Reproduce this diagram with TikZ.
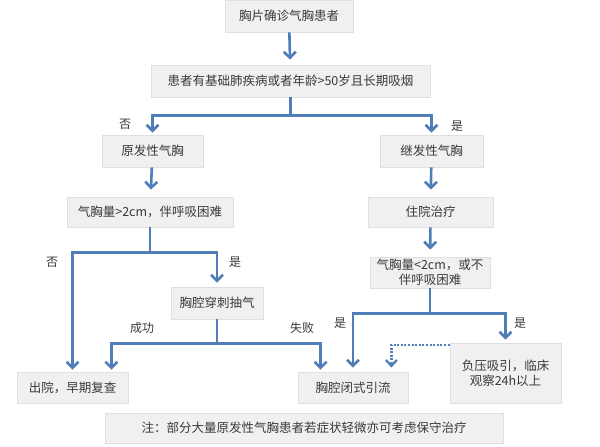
\documentclass[tikz,border=0pt]{standalone}
\usepackage{fontspec}
\setmainfont{Noto Sans CJK SC}
\usetikzlibrary{arrows.meta,calc}
\definecolor{lineblue}{HTML}{4F7DB8}
\definecolor{boxfill}{HTML}{F0F0F0}
\definecolor{boxedge}{HTML}{E0E0E0}
\definecolor{txt}{HTML}{3A3A3A}
\begin{document}
\begin{tikzpicture}[x=1pt,y=-1pt,
  box/.style={fill=boxfill,draw=boxedge,line width=0.8pt,inner sep=0pt,align=center,text=txt,font=\fontsize{12.5}{15}\selectfont},
  conn/.style={draw=lineblue,line width=2.6pt},
  arr/.style={conn,-{Straight Barb[length=6pt,width=12pt]}},
  dotarr/.style={draw=lineblue,line width=2.2pt,dash pattern=on 2pt off 1.6pt,-{Straight Barb[length=6pt,width=11pt]}},
  lbl/.style={text=txt,inner sep=0pt,font=\fontsize{12}{14}\selectfont}]
\useasboundingbox (0,0) rectangle (600,447);
\fill[white] (0,0) rectangle (600,447);
% boxes
\node[box,minimum width=128pt,minimum height=32pt] (b1) at (289,16) {胸片确诊气胸患者};
\node[box,minimum width=279pt,minimum height=32pt] (b2) at (290.5,81) {患者有基础肺疾病或者年龄>50岁且长期吸烟};
\node[box,minimum width=101pt,minimum height=32pt] (b3) at (152.5,151) {原发性气胸};
\node[box,minimum width=103pt,minimum height=32pt] (b4) at (431.5,151) {继发性气胸};
\node[box,minimum width=166pt,minimum height=30pt] (b5) at (150,212) {气胸量>2cm，伴呼吸困难};
\node[box,minimum width=125pt,minimum height=30pt] (b6) at (430.5,212) {住院治疗};
\node[box,minimum width=92pt,minimum height=32pt] (b7) at (217,303) {胸腔穿刺抽气};
\node[box,minimum width=120pt,minimum height=31pt] (b8) at (430,272.5) {气胸量<2cm，或不\\伴呼吸困难};
\node[box,minimum width=111pt,minimum height=31pt] (b9) at (72.5,387.5) {出院，早期复查};
\node[box,minimum width=110pt,minimum height=31pt] (b10) at (353,387.5) {胸腔闭式引流};
\node[box,minimum width=111pt,minimum height=60pt] (b11) at (505.5,373) {负压吸引，临床\\观察24h以上};
\node[box,minimum width=398pt,minimum height=30pt] (b12) at (304,428) {注：部分大量原发性气胸患者若症状轻微亦可考虑保守治疗};
% connectors
\draw[arr,shorten >=5pt] (b1) -- (b2);
\draw[conn] (b2.south) -- ++(0,18) coordinate (j1);
\draw[arr,shorten >=2pt] (j1) -| (b3.north);
\draw[arr,shorten >=2pt] (j1) -| (b4.north);
\draw[arr,shorten >=7pt] (b3) -- (b5);
\draw[arr,shorten >=7pt] (b4) -- (b6);
\draw[arr,shorten >=7pt] (b6) -- (b8);
\draw[conn] (b5.south) -- ++(0,25) coordinate (j2);
\draw[arr,shorten >=2pt] (j2) -| (b9.north);
\draw[arr,shorten >=4pt] (j2) -| (b7.north);
\draw[conn] (b7.south) -- ++(0,24) coordinate (j3);
\draw[arr,shorten >=2pt] (j3) -| ($(b9.north east)+(-17,0)$);
\draw[arr,shorten >=2pt] (j3) -| ($(b10.north west)+(23,0)$);
\draw[conn] (b8.south) -- ++(0,25) coordinate (j4);
\draw[arr,shorten >=4pt] (j4) -| (b10.north);
\draw[arr,shorten >=3pt] (j4) -| (b11.north);
\draw[dotarr,shorten >=4pt] ($(b11.north west)+(0,2)$) -| ($(b10.north east)+(-17,0)$);
% labels
\node[lbl] (l1) at (125,124) {否};
\node[lbl] (l2) at (457,126) {是};
\node[lbl] (l3) at (52,262) {否};
\node[lbl] (l4) at (235,262) {是};
\node[lbl] (l5) at (142,328) {成功};
\node[lbl] (l6) at (302,328) {失败};
\node[lbl] (l7) at (340,323) {是};
\node[lbl] (l8) at (520,323) {是};
\end{tikzpicture}
\end{document}
